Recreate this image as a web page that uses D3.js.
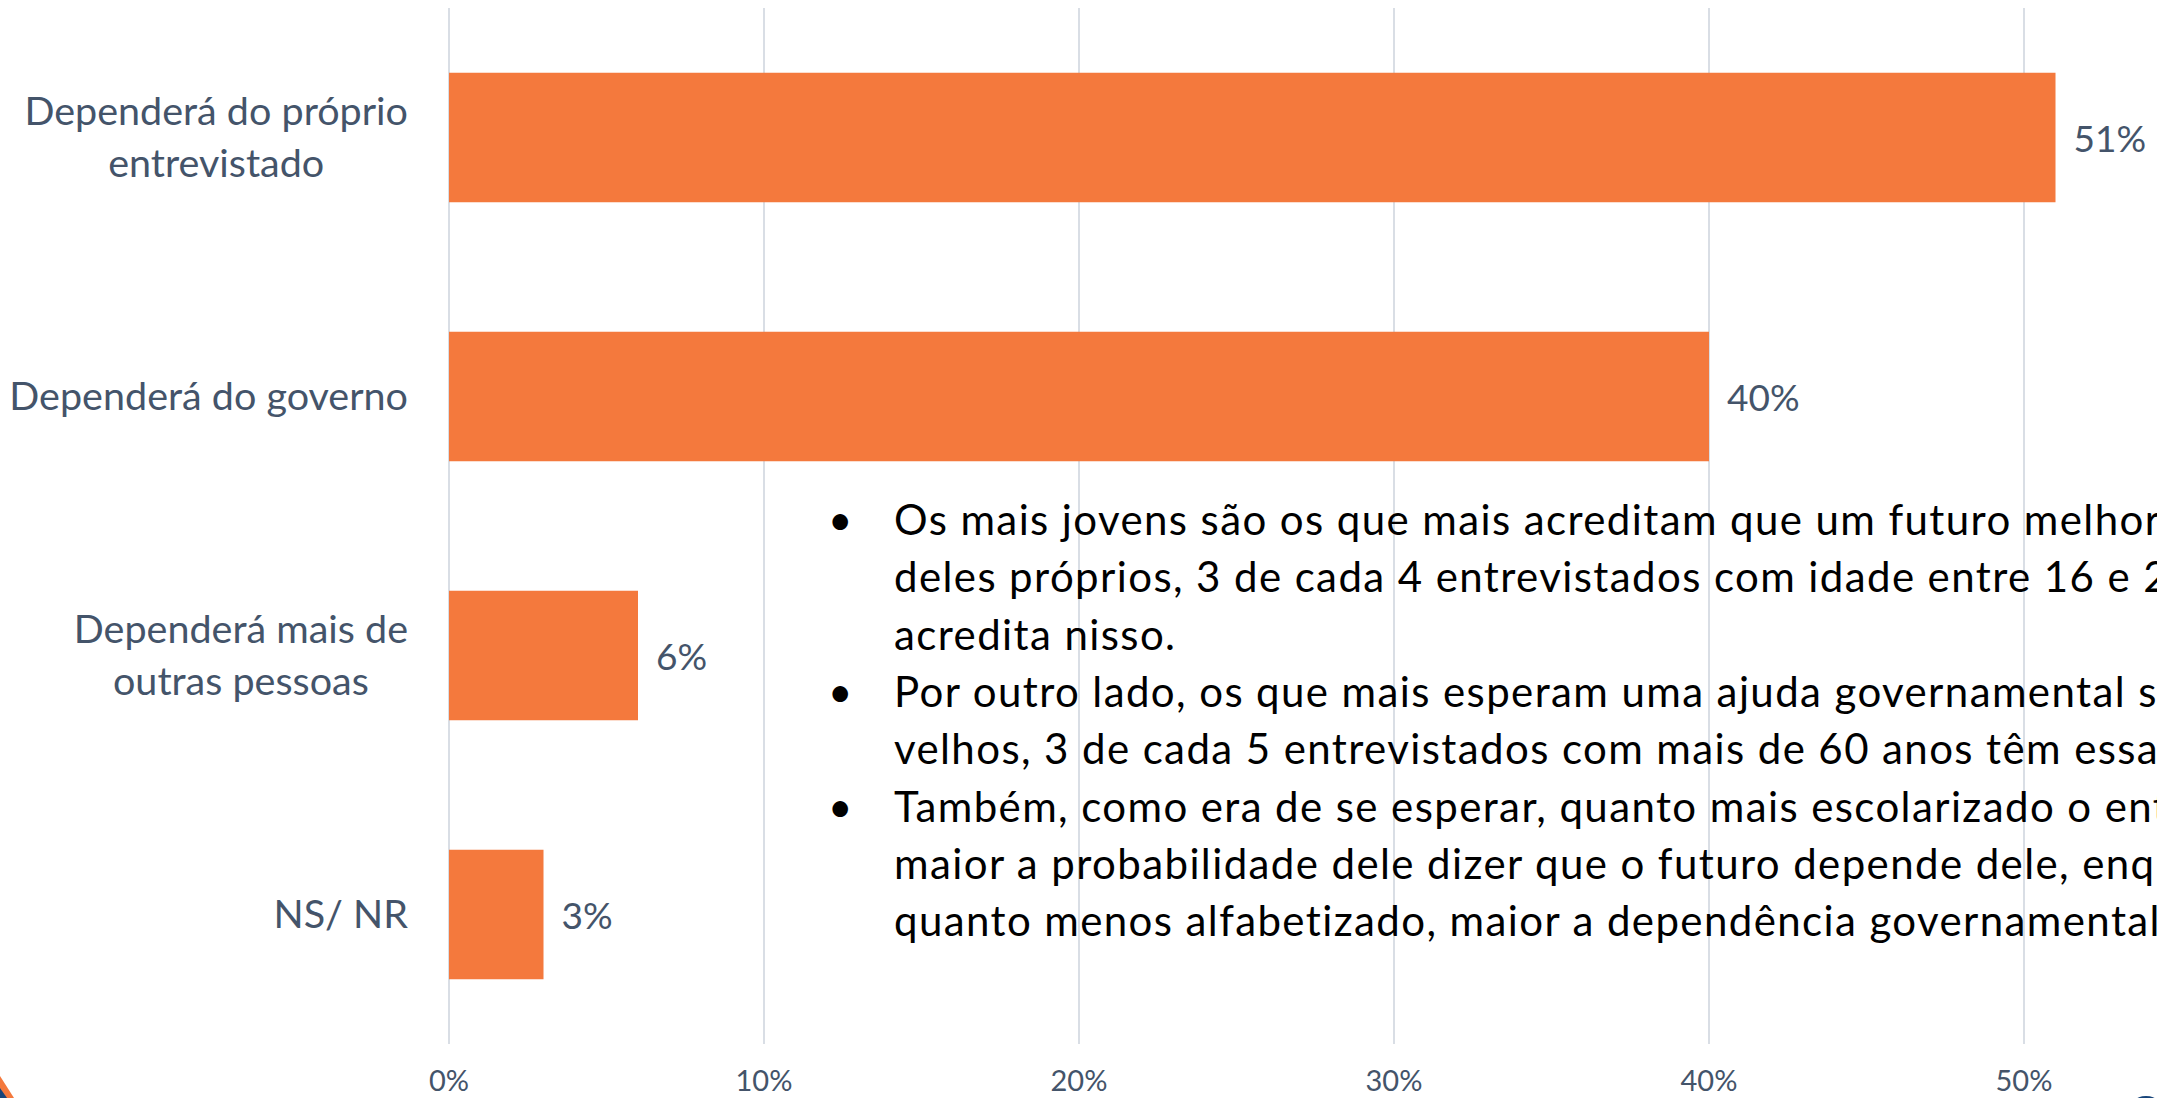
<!DOCTYPE html>
<head>
<meta charset="utf-8">
<script src="https://d3js.org/d3.v7.min.js"></script>
<style>
body {
  margin: 0;
  background-color: #fff;
  overflow: hidden;
}
text {
  font-family: Lato, "Open Sans", sans-serif;
}
.grid line {
  stroke: #d9dee5;
  stroke-width: 2px;
}
.cat, .val, .tick-lbl {
  fill: #44546a;
}
.cat {
  font-size: 39.5px;
}
.val {
  font-size: 37px;
}
.tick-lbl {
  font-size: 29px;
}
.note {
  fill: #000;
  font-size: 42px;
  letter-spacing: 1.4px;
}
</style>
</head>
<body>
<svg width="2157" height="1098"></svg>

<script>

// values
var categories = ["Dependerá do próprio\nentrevistado", "Dependerá do governo", "Dependerá mais de\noutras pessoas", "NS/ NR"];
var values = [0.51, 0.40, 0.06, 0.03];
var ticks = [0, 0.1, 0.2, 0.3, 0.4, 0.5];

// bullet text box, one entry per line (first line of a bullet starts with "• ")
// the box runs past the right edge of the slide, like in the original
var notes = [
  "• Os mais jovens são os que mais acreditam que um futuro melhor depende",
  "deles próprios, 3 de cada 4 entrevistados com idade entre 16 e 24 anos",
  "acredita nisso.",
  "• Por outro lado, os que mais esperam uma ajuda governamental são os mais",
  "velhos, 3 de cada 5 entrevistados com mais de 60 anos têm essa opinião.",
  "• Também, como era de se esperar, quanto mais escolarizado o entrevistado,",
  "maior a probabilidade dele dizer que o futuro depende dele, enquanto",
  "quanto menos alfabetizado, maior a dependência governamental."
];

var svg = d3.select("svg");

var x = d3.scaleLinear()
    .domain([0, 0.5])
    .range([449, 2024]);

var y = d3.scaleBand()
    .domain(categories)
    .range([8, 1044])
    .paddingInner(0.5)
    .paddingOuter(0.25);

// gridlines
svg.append("g")
    .attr("class", "grid")
    .selectAll("line")
    .data(ticks)
    .enter().append("line")
    .attr("x1", function(d) { return x(d); })
    .attr("x2", function(d) { return x(d); })
    .attr("y1", y.range()[0])
    .attr("y2", y.range()[1]);

// bars
svg.append("g")
    .selectAll("rect")
    .data(values)
    .enter().append("rect")
    .attr("x", x(0))
    .attr("y", function(d, i) { return y(categories[i]); })
    .attr("width", function(d) { return x(d) - x(0); })
    .attr("height", y.bandwidth())
    .attr("fill", "#f4793d");

// value labels
svg.append("g")
    .selectAll("text")
    .data(values)
    .enter().append("text")
    .attr("class", "val")
    .attr("x", function(d) { return x(d) + 18; })
    .attr("y", function(d, i) { return y(categories[i]) + y.bandwidth() / 2 + 14; })
    .text(d3.format(".0%"));

// category labels, wrapped ones are centred on their widest line
var labelRight = x(0) - 41;
var cats = svg.append("g")
    .selectAll("text")
    .data(categories)
    .enter().append("text")
    .attr("class", "cat");

cats.each(function(d) {
  var el = d3.select(this);
  var lines = d.split("\n");
  var mid = y(d) + y.bandwidth() / 2;
  var first = lines.length == 1 ? mid + 13 : mid - 13;
  lines.forEach(function(l, i) {
    el.append("tspan").attr("y", first + i * 52).text(l);
  });
  var w = d3.max(el.selectAll("tspan").nodes(), function(n) { return n.getComputedTextLength(); });
  el.attr("text-anchor", "middle");
  el.selectAll("tspan").attr("x", labelRight - w / 2);
});

// x tick labels
svg.append("g")
    .selectAll("text")
    .data(ticks)
    .enter().append("text")
    .attr("class", "tick-lbl")
    .attr("text-anchor", "middle")
    .attr("x", function(d) { return x(d); })
    .attr("y", 1091)
    .text(d3.format(".0%"));

// text box
var note = svg.append("g");
notes.forEach(function(l, i) {
  var ny = 535 + i * 57.3;
  var bullet = l.indexOf("• ") == 0;
  if (bullet) {
    note.append("text").attr("class", "note").attr("x", 828).attr("y", ny).text("•");
    l = l.slice(2);
  }
  note.append("text").attr("class", "note").attr("x", 894).attr("y", ny).text(l);
});

// bits of the slide decoration in the corners
svg.append("path").attr("d", "M0,1076L14,1098L0,1098Z").attr("fill", "#f4793d");
svg.append("path").attr("d", "M0,1088L7,1098L0,1098Z").attr("fill", "#17457a");
svg.append("ellipse").attr("cx", 2146).attr("cy", 1100).attr("rx", 10).attr("ry", 4).attr("fill", "#17457a");

</script>
</body>
